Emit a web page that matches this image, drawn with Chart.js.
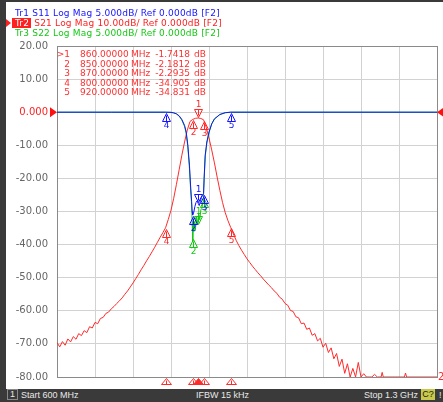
<!DOCTYPE html>
<html><head><meta charset="utf-8">
<script src="https://cdn.jsdelivr.net/npm/chart.js@4.4.1/dist/chart.umd.min.js"></script>
<style>
html,body{margin:0;padding:0;background:#fff;}
body{width:443px;height:402px;position:relative;overflow:hidden;font-family:"DejaVu Sans",sans-serif;}
#c{position:absolute;left:0;top:0;}
.lbar{position:absolute;left:0;top:0;width:6px;height:389px;background:#3a3a3a;}
.tbar{position:absolute;left:0;top:0;width:443px;height:2px;background:#3a3a3a;}
.hdr{position:absolute;left:15px;font-size:9px;line-height:10px;white-space:pre;letter-spacing:0.2px;}
.sel{background:#ff2020;color:#fff;margin-left:-3px;padding:0 2px 0 3px;}
.ptr{position:absolute;left:6px;top:19px;width:0;height:0;border-top:4px solid transparent;border-bottom:4px solid transparent;border-left:5px solid #ff2020;}
#mt{position:absolute;left:0;top:0;color:#ff3030;font-size:9px;}
#mt div{position:absolute;height:10px;line-height:10px;white-space:pre;}
.status{position:absolute;left:0;top:389px;width:443px;height:13px;background:#3a3a3a;color:#e8e8e8;font-family:"Liberation Sans",sans-serif;font-size:9px;line-height:13px;}
.status span{position:absolute;top:0;white-space:pre;}
.box1{position:absolute;left:7px;top:2px;width:9px;height:9px;border:1px solid #8a8a8a;line-height:9px;text-align:center;}
.cbox{position:absolute;left:421px;top:1px;width:14px;height:11px;background:#c8c84a;color:#202020;line-height:11px;text-align:center;}
</style>
</head>
<body>
<canvas id="c" width="443" height="402"></canvas>
<div class="tbar"></div>
<div class="lbar"></div>
<div class="ptr"></div>
<div class="hdr" style="top:8px;color:#1414ff">Tr1 S11 Log Mag 5.000dB/ Ref 0.000dB [F2]</div>
<div class="hdr" style="top:18px;color:#ff2020"><span class="sel">Tr2</span> S21 Log Mag 10.00dB/ Ref 0.000dB [F2]</div>
<div class="hdr" style="top:28px;color:#14c814">Tr3 S22 Log Mag 5.000dB/ Ref 0.000dB [F2]</div>
<div id="mt"></div>
<div class="status">
  <span class="box1" style="text-align:center">1</span>
  <span style="left:21px">Start 600 MHz</span>
  <span style="left:196px">IFBW 15 kHz</span>
  <span style="left:364px">Stop 1.3 GHz</span>
  <span class="cbox">C?</span>
  <span style="left:439px">!</span>
</div>
<script>
// ---- Axis ticks ----
const freqTicks = [600,670,740,810,880,950,1020,1090,1160,1230,1300];
const dbTicks = [-80,-70,-60,-50,-40,-30,-20,-10,0,10,20];

// ---- Tr2 S21 (red), MHz / dB ----
const s21Freq = [600,605,610,615,620,625,630,635,640,645,650,655,660,665,670,675,680,685,690,695,
  700,705,710,715,720,725,730,735,740,745,750,755,760,765,770,775,780,785,790,795,
  800,805,810,815,820,825,830,835,840,845,850,855,860,865,870,875,880,885,890,895,
  900,905,910,915,920,925,930,935,940,945,950,955,960,965,970,975,980,985,990,995,
  1000,1005,1010,1015,1020,1025,1030,1035,1040,1045,1050,1055,1060,1065,1070,1075,1080,1085,1090,1095,
  1100,1105,1110,1115,1120,1125,1130,1135,1140,1145,1150,1155,1160,1165,1170,1175,1180,1185,1190,1197,
  1199,1201,1240,1242,1244,1300];
const s21Mag = [-69.6,-70.9,-69.3,-70.4,-68.5,-69.4,-67.8,-68.6,-66.9,-67.5,-66.0,-66.6,-64.8,-65.2,-63.5,-63.9,-62.3,-62.0,-60.8,-60.4,
  -59.4,-58.7,-57.8,-57.0,-56.1,-55.0,-54.0,-52.8,-51.6,-50.3,-49.0,-47.6,-46.3,-44.9,-43.6,-42.2,-40.8,-39.3,-37.8,-36.4,
  -34.905,-32.4,-29.6,-26.0,-21.8,-17.4,-13.0,-9.0,-5.4,-2.8,-2.1812,-1.85,-1.7418,-1.90,-2.2935,-4.6,-7.8,-11.4,-15.3,-19.6,
  -23.6,-27.3,-30.4,-32.8,-34.831,-36.8,-38.7,-40.3,-41.7,-43.0,-44.3,-45.4,-46.5,-47.5,-48.5,-49.4,-50.4,-51.3,-52.2,-53.0,
  -54.0,-54.7,-55.9,-56.5,-57.8,-58.3,-59.9,-60.2,-61.8,-62.1,-63.9,-63.7,-65.6,-65.2,-67.4,-66.9,-69.1,-68.3,-71.0,-69.8,
  -72.6,-71.2,-74.5,-72.9,-76.8,-74.6,-78.9,-76.0,-80,-77.4,-80,-75.6,-80,-79.0,-80,-80,-80,-79.2,-80,-80,
  -78.6,-80,-80,-78.8,-80,-80];

// ---- Tr1 S11 (blue) ----
const s11Freq = [600,700,800,810,815,820,825,830,835,838,841,844,846,848,849,850,852,854,856,858,
  860,862,864,866,868,870,871,873,876,880,885,890,900,910,920,1300];
const s11Mag = [0,0,0,-0.05,-0.2,-0.5,-1.1,-2.2,-4.0,-6.0,-10.0,-16.0,-22.0,-27.0,-30.0,-31.0,-30.2,-28.5,-27.3,-26.8,
  -27.5,-28.2,-27.0,-25.8,-25.2,-24.6,-20.0,-13.0,-9.0,-6.0,-3.5,-2.0,-0.7,-0.15,0,0];

// ---- Tr3 S22 (green) ----
const s22Freq = [600,700,800,810,815,820,825,830,835,838,841,844,846,848,849,850,851,852,853,855,
  857,859,861,863,865,867,869,870,871,873,876,880,885,890,900,910,920,1300];
const s22Mag = [0,0,0,-0.05,-0.2,-0.5,-1.2,-2.4,-4.3,-6.4,-10.5,-17.0,-23.0,-28.0,-33.0,-39.0,-34.0,-36.0,-33.0,-35.5,
  -31.5,-34.0,-30.5,-32.5,-29.5,-29.0,-27.0,-24.5,-20.5,-13.5,-9.3,-6.2,-3.6,-2.1,-0.7,-0.15,0,0];

// ---- Markers ----
const markerIds = ['1','2','3','4','5'];
const markerFreq = [860,850,870,800,920];
const markerS21 = [-1.7418,-2.1812,-2.2935,-34.905,-34.831];
const markerS11 = [-27.5,-31.0,-24.6,0,0];
const markerS22 = [-34.0,-38.0,-26.0];

// marker table text
const mt = document.getElementById('mt');
markerIds.forEach((id,i)=>{
  const top = 49 + i*9.5;
  const cols = [
    {t:(i===0?'>':'')+id, l:56, w:14, a:'right'},
    {t:markerFreq[i].toFixed(5), l:80},
    {t:'MHz', l:131},
    {t:markerS21[i].toPrecision(5), l:140, w:50, a:'right'},
    {t:'dB', l:194}
  ];
  cols.forEach(c=>{
    const d=document.createElement('div');
    d.textContent=c.t; d.style.top=top+'px'; d.style.left=c.l+'px';
    if(c.w){d.style.width=c.w+'px'; d.style.textAlign=c.a;}
    mt.appendChild(d);
  });
});

const pts = (f,m)=>f.map((v,i)=>({x:v,y:m[i]}));

const RED='#ff2a2a', BLUE='#1414ff', GREEN='#14c814';

const markerPlugin = {
  id:'vnaMarkers',
  afterDatasetsDraw(chart){
    const {ctx, scales:{x,y}, chartArea:a} = chart;
    ctx.save();
    ctx.lineWidth=1;
    ctx.font='9px "DejaVu Sans"';
    ctx.textAlign='center';
    const tri=(px,py,up,color,fill,hw,h)=>{
      hw=hw||4; h=h||8;
      ctx.beginPath();
      if(up){ctx.moveTo(px,py);ctx.lineTo(px-hw,py+h);ctx.lineTo(px+hw,py+h);}
      else {ctx.moveTo(px,py);ctx.lineTo(px-hw,py-h);ctx.lineTo(px+hw,py-h);}
      ctx.closePath();
      if(fill){ctx.fillStyle=color;ctx.fill();}
      ctx.strokeStyle=color; ctx.stroke();
      ctx.beginPath(); ctx.moveTo(px,py+(up?2:-2)); ctx.lineTo(px,py+(up?h:-h)); ctx.stroke();
    };
    const mark=(vals,color)=>{
      vals.forEach((v,i)=>{
        const px=Math.round(x.getPixelForValue(markerFreq[i]))+0.5;
        const py=Math.round(y.getPixelForValue(v))+0.5;
        if(i===0){
          tri(px,py-1,false,color,false);
          ctx.fillStyle=color; ctx.textBaseline='bottom';
          ctx.fillText(markerIds[i],px,py-9);
        } else {
          tri(px,py+1,true,color,false);
          ctx.fillStyle=color; ctx.textBaseline='top';
          ctx.fillText(markerIds[i],px,py+9);
        }
      });
    };
    mark(markerS22,GREEN);
    mark(markerS11,BLUE);
    mark(markerS21,RED);
    // stimulus indicators below the grid
    markerFreq.forEach((f,i)=>{
      const px=Math.round(x.getPixelForValue(f))+0.5;
      tri(px,a.bottom+1.5,true,RED,i===0,5,6);
    });
    // reference level arrows
    const y0=y.getPixelForValue(0);
    ctx.fillStyle='#ff1010';
    ctx.beginPath(); ctx.moveTo(a.left,y0); ctx.lineTo(a.left-7,y0-5); ctx.lineTo(a.left-7,y0+5); ctx.closePath(); ctx.fill();
    ctx.beginPath(); ctx.moveTo(a.right,y0); ctx.lineTo(a.right+7,y0-5); ctx.lineTo(a.right+7,y0+5); ctx.closePath(); ctx.fill();
    ctx.fillStyle=RED; ctx.textAlign='left'; ctx.textBaseline='middle';
    ctx.font='10px "DejaVu Sans"';
    ctx.fillText('2',a.right+1,y.getPixelForValue(-80));
    ctx.restore();
  }
};

new Chart(document.getElementById('c'),{
  type:'line',
  data:{datasets:[
    {label:'S11',data:pts(s11Freq,s11Mag),borderColor:BLUE,borderWidth:1,pointRadius:0,tension:0},
    {label:'S22',data:pts(s22Freq,s22Mag),borderColor:GREEN,borderWidth:1,pointRadius:0,tension:0},
    {label:'S21',data:pts(s21Freq,s21Mag),borderColor:RED,borderWidth:1,pointRadius:0,tension:0}
  ]},
  options:{
    responsive:false, animation:false, devicePixelRatio:1,
    layout:{padding:{left:0,top:46,right:6,bottom:25}},
    plugins:{legend:{display:false},tooltip:{enabled:false}},
    scales:{
      x:{type:'linear',min:600,max:1300,
        afterBuildTicks:s=>{s.ticks=freqTicks.map(v=>({value:v}));},
        afterFit:s=>{s.height=0;},
        ticks:{display:false},
        grid:{drawTicks:false,color:c=>(c.tick&&(c.tick.value===600||c.tick.value===1300))?'#8a8a8a':'#d2d2d2'},
        border:{display:true,color:'#8a8a8a'}
      },
      y:{type:'linear',min:-80,max:20,
        afterBuildTicks:s=>{s.ticks=dbTicks.map(v=>({value:v}));},
        afterFit:s=>{s.width=57;},
        ticks:{padding:9,font:{family:'DejaVu Sans',size:10},
          color:c=>c.tick.value===0?'#ff2020':'#666666',
          callback:v=>v===0?'0.000':v.toFixed(2)},
        grid:{drawTicks:false,color:c=>(c.tick&&(c.tick.value===-80||c.tick.value===20))?'#8a8a8a':'#d2d2d2'},
        border:{display:true,color:'#8a8a8a'}
      }
    }
  },
  plugins:[markerPlugin]
});
</script>
</body></html>
